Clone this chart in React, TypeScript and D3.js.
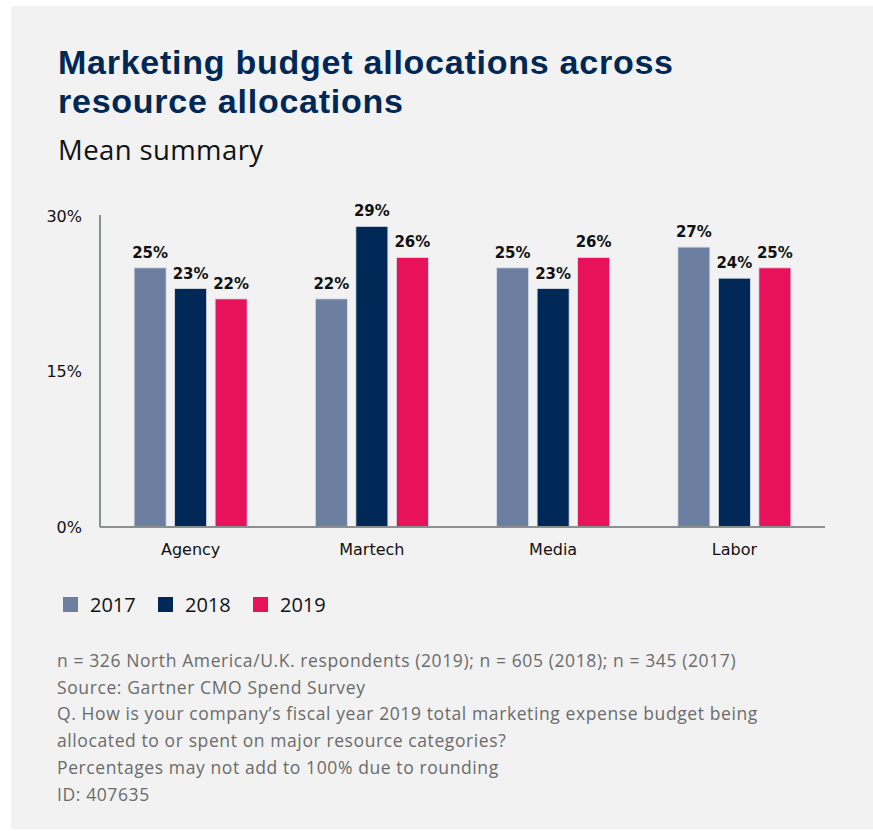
import React from "react";
import * as d3 from "d3";

const categories = ["Agency", "Martech", "Media", "Labor"];
const years = ["2017", "2018", "2019"];
const values2017 = [25, 22, 25, 27];
const values2018 = [23, 29, 23, 24];
const values2019 = [22, 26, 26, 25];
const yTicks = [0, 15, 30];
const colors = ["#6c7fa1", "#002856", "#e8125a"];
const footnotes = [
  "n = 326 North America/U.K. respondents (2019); n = 605 (2018); n = 345 (2017)",
  "Source: Gartner CMO Spend Survey",
  "Q. How is your company’s fiscal year 2019 total marketing expense budget being",
  "allocated to or spent on major resource categories?",
  "Percentages may not add to 100% due to rounding",
  "ID: 407635",
];

const W = 873;
const H = 831;
const plotLeft = 100;
const plotRight = 825;
const plotTop = 216;
const plotBottom = 527;

export default function App() {
  const series = [values2017, values2018, values2019];
  const x0 = d3.scaleBand<string>().domain(categories).range([plotLeft, plotRight]).padding(0);
  const groupW = 113;
  const x1 = d3.scaleBand<string>().domain(years).range([0, groupW]).paddingInner(0.21).paddingOuter(0);
  const y = d3.scaleLinear().domain([0, 30]).range([plotBottom, plotTop]);
  const chartFont = "'DejaVu Sans', sans-serif";
  const noteFont = "'Open Sans', sans-serif";
  const titleFont = "'Liberation Sans', Arial, sans-serif";

  return (
    <svg width={W} height={H} style={{ position: "absolute", left: 0, top: 0, background: "#ffffff" }}>
      <rect x={11} y={6} width={W - 11} height={823} fill="#f2f2f2" />
      <text x={58} y={74} fontFamily={titleFont} fontWeight={700} fontSize={34} letterSpacing={0.75} fill="#002856">
        Marketing budget allocations across
      </text>
      <text x={58} y={112.5} fontFamily={titleFont} fontWeight={700} fontSize={34} letterSpacing={0.75} fill="#002856">
        resource allocations
      </text>
      <text x={58} y={160} fontFamily={noteFont} fontSize={27.5} letterSpacing={0.4} fill="#111">
        Mean summary
      </text>

      {/* y tick labels */}
      {yTicks.map((t) => (
        <text key={t} x={82} y={y(t)} dy="0.35em" textAnchor="end" fontFamily={chartFont} fontSize={16} fill="#111">
          {t}%
        </text>
      ))}

      {/* bars */}
      {categories.map((c, ci) => {
        const gx = (x0(c) as number) + (x0.bandwidth() - groupW) / 2;
        return (
          <g key={c}>
            {years.map((yr, si) => {
              const v = series[si][ci];
              const bx = gx + (x1(yr) as number);
              const bw = x1.bandwidth();
              return (
                <g key={yr}>
                  <rect x={bx} y={y(v)} width={bw} height={plotBottom - y(v)} fill={colors[si]} stroke="#d9dee8" strokeWidth={0.8} />
                  <text x={bx + bw / 2} y={y(v) - 10} textAnchor="middle" fontFamily={chartFont} fontWeight={700} fontSize={15} fill="#111">
                    {v}%
                  </text>
                </g>
              );
            })}
            <text x={(x0(c) as number) + x0.bandwidth() / 2} y={555} textAnchor="middle" fontFamily={chartFont} fontSize={16} fill="#111">
              {c}
            </text>
          </g>
        );
      })}

      {/* axes */}
      <line x1={plotLeft} x2={plotLeft} y1={plotTop - 1} y2={plotBottom} stroke="#8a8f8f" strokeWidth={2} />
      <line x1={plotLeft} x2={plotRight} y1={plotBottom} y2={plotBottom} stroke="#8a8f8f" strokeWidth={2} />

      {/* legend */}
      {years.map((yr, i) => {
        const lx = 63 + i * 95;
        return (
          <g key={yr}>
            <rect x={lx} y={597} width={15} height={15} fill={colors[i]} />
            <text x={lx + 27} y={612} fontFamily={noteFont} fontSize={20} fill="#111">
              {yr}
            </text>
          </g>
        );
      })}

      {/* footnotes */}
      {footnotes.map((f, i) => (
        <text key={i} x={57} y={667 + i * 26.7} fontFamily={noteFont} fontSize={17.5} letterSpacing={0.6} fill="#6b6b6b">
          {f}
        </text>
      ))}
    </svg>
  );
}
